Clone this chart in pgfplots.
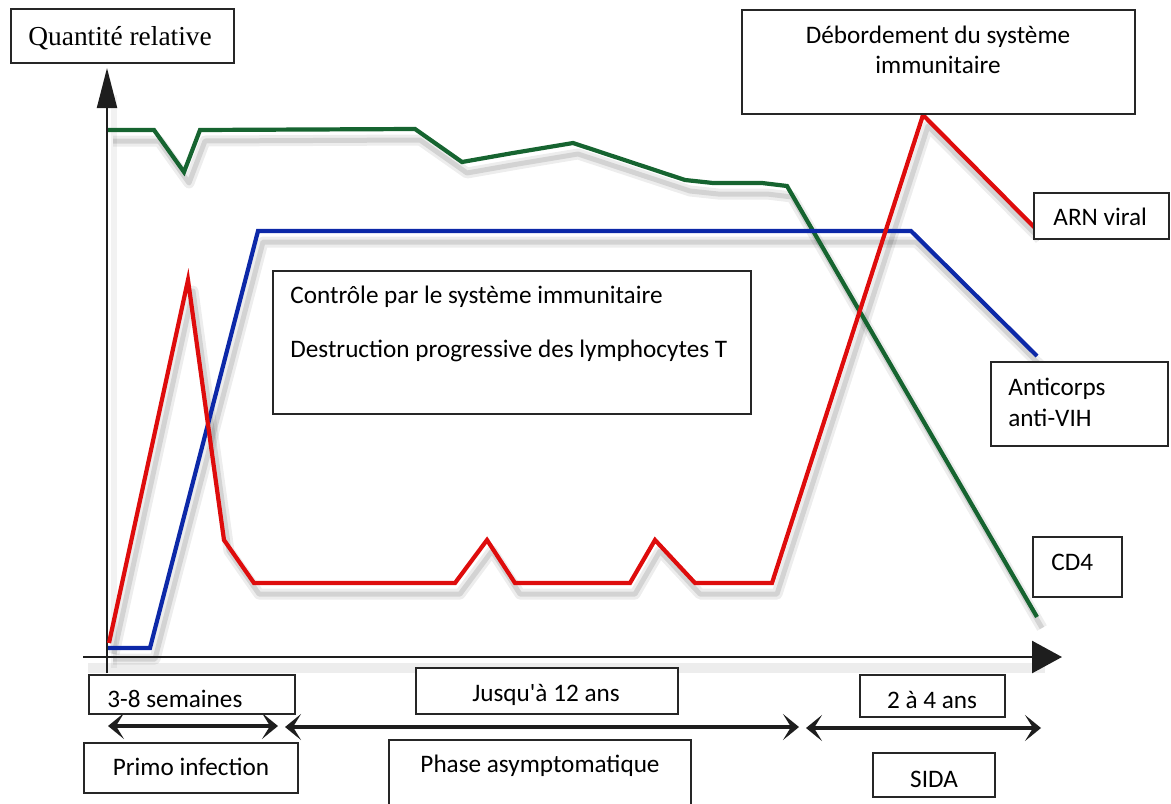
\documentclass[border=0pt]{standalone}
\usepackage{pgfplots}
\pgfplotsset{compat=1.18}
\usepackage{fontspec}
\setmainfont{Carlito}[Ligatures=TeXOff]
\newfontfamily\timesf{Liberation Serif}
\usetikzlibrary{arrows.meta}
\definecolor{cdgreen}{RGB}{22,100,48}
\definecolor{arnred}{RGB}{222,12,12}
\definecolor{abblue}{RGB}{12,40,168}
\definecolor{axcol}{RGB}{30,30,30}

\begin{document}
\begin{tikzpicture}
\begin{axis}[x=0.5pt, y=0.5pt, xmin=0, xmax=1171, ymin=0, ymax=803, y dir=reverse,
  hide axis, clip=false, scale only axis,
  shadow/.style={draw=black, opacity=0.07, line width=5.5pt, xshift=2.5pt, yshift=-5.5pt, line join=round},
  shadowb/.style={draw=black, opacity=0.11, line width=2.5pt, xshift=2.5pt, yshift=-5.5pt, line join=round},
  curve/.style={line width=2.1pt, line join=miter, mark=none}]

% ---- data
% CD4 (green)
\addplot[shadow] coordinates {(108,130) (154,130) (184,172) (200,130) (415,129) (462,162) (513,153) (573,143) (685,180) (713,183) (762,183) (787,186) (1037,617)};
\addplot[shadowb] coordinates {(108,130) (154,130) (184,172) (200,130) (415,129) (462,162) (513,153) (573,143) (685,180) (713,183) (762,183) (787,186) (1037,617)};
% antibodies (blue)
\addplot[shadow] coordinates {(108,648) (150,648) (258,231) (911,231) (1037,356)};
\addplot[shadowb] coordinates {(108,648) (150,648) (258,231) (911,231) (1037,356)};
% viral RNA (red)
\addplot[shadow] coordinates {(109,643) (188,280) (224,540) (254,583) (455,583) (487,540) (515,583) (630,583) (655,540) (695,583) (772,583) (923,115) (1035,228)};
\addplot[shadowb] coordinates {(109,643) (188,280) (224,540) (254,583) (455,583) (487,540) (515,583) (630,583) (655,540) (695,583) (772,583) (923,115) (1035,228)};

% axes shadows
\draw[black, opacity=0.07, line width=5pt] (axis cs:88,668) -- (axis cs:1045,668);
\draw[black, opacity=0.05, line width=3pt] (axis cs:114,668) -- (axis cs:114,95);

% axes
\draw[axcol, line width=1.3pt, -{Triangle[length=15pt, width=16pt]}] (axis cs:83,657) -- (axis cs:1062,657);
\draw[axcol, line width=1pt, -{Triangle[length=20pt, width=10pt]}] (axis cs:107,673) -- (axis cs:107,68);

\addplot[curve, cdgreen] coordinates {(108,130) (154,130) (184,172) (200,130) (415,129) (462,162) (513,153) (573,143) (685,180) (713,183) (762,183) (787,186) (1037,617)};
\addplot[curve, abblue] coordinates {(108,648) (150,648) (258,231) (911,231) (1037,356)};
\addplot[curve, arnred] coordinates {(109,643) (188,280) (224,540) (254,583) (455,583) (487,540) (515,583) (630,583) (655,540) (695,583) (772,583) (923,115) (1035,228)};

% duration arrows
\begin{scope}[line width=1.6pt, axcol, arrows={Stealth[length=8pt, width=13pt, inset=4pt]-Stealth[length=8pt, width=13pt, inset=4pt]}]
\draw (axis cs:108,726) -- (axis cs:278,726);
\draw (axis cs:285,727) -- (axis cs:799,727);
\draw (axis cs:806,728) -- (axis cs:1041,728);
\end{scope}

% boxes
\begin{scope}[line width=0.8pt, draw=black!85, fill=white]
\filldraw (axis cs:11,9) rectangle (axis cs:234,63);
\filldraw (axis cs:742,10) rectangle (axis cs:1135,114);
\filldraw (axis cs:1034,193) rectangle (axis cs:1169,239);
\filldraw (axis cs:991,362) rectangle (axis cs:1168,446);
\filldraw (axis cs:1033,537) rectangle (axis cs:1122,597);
\filldraw (axis cs:273,271) rectangle (axis cs:751,414);
\filldraw (axis cs:89,675) rectangle (axis cs:295,714);
\filldraw (axis cs:416,668) rectangle (axis cs:678,714);
\filldraw (axis cs:860,675) rectangle (axis cs:1005,717);
\filldraw (axis cs:84,743) rectangle (axis cs:298,793);
\filldraw (axis cs:389,740) rectangle (axis cs:691,806);
\filldraw (axis cs:873,753) rectangle (axis cs:995,797);
\end{scope}

% texts
\begin{scope}[every node/.style={inner sep=0pt, font=\fontsize{12.6}{15}\selectfont}]
\node[anchor=base west, font=\timesf\fontsize{13.7}{16}\selectfont] at (axis cs:28,45) {Quantité relative};
\node[anchor=base] at (axis cs:938,43) {Débordement du système};
\node[anchor=base] at (axis cs:938,73) {immunitaire};
\node[anchor=base west] at (axis cs:1053,225) {ARN viral};
\node[anchor=base west] at (axis cs:1008,395) {Anticorps};
\node[anchor=base west] at (axis cs:1008,426) {anti-VIH};
\node[anchor=base west] at (axis cs:1051,570) {CD4};
\node[anchor=base west] at (axis cs:290,303) {Contrôle par le système immunitaire};
\node[anchor=base west] at (axis cs:290,357) {Destruction progressive des lymphocytes T};
\node[anchor=base west] at (axis cs:107,707) {3-8 semaines};
\node[anchor=base] at (axis cs:546,701) {Jusqu'à 12 ans};
\node[anchor=base] at (axis cs:932,708) {2 à 4 ans};
\node[anchor=base] at (axis cs:191,775) {Primo infection};
\node[anchor=base] at (axis cs:540,772) {Phase asymptomatique};
\node[anchor=base] at (axis cs:934,787) {SIDA};
\end{scope}
\end{axis}
\pgfresetboundingbox
\path (current axis.south west) rectangle (current axis.north east);
\end{tikzpicture}
\end{document}
